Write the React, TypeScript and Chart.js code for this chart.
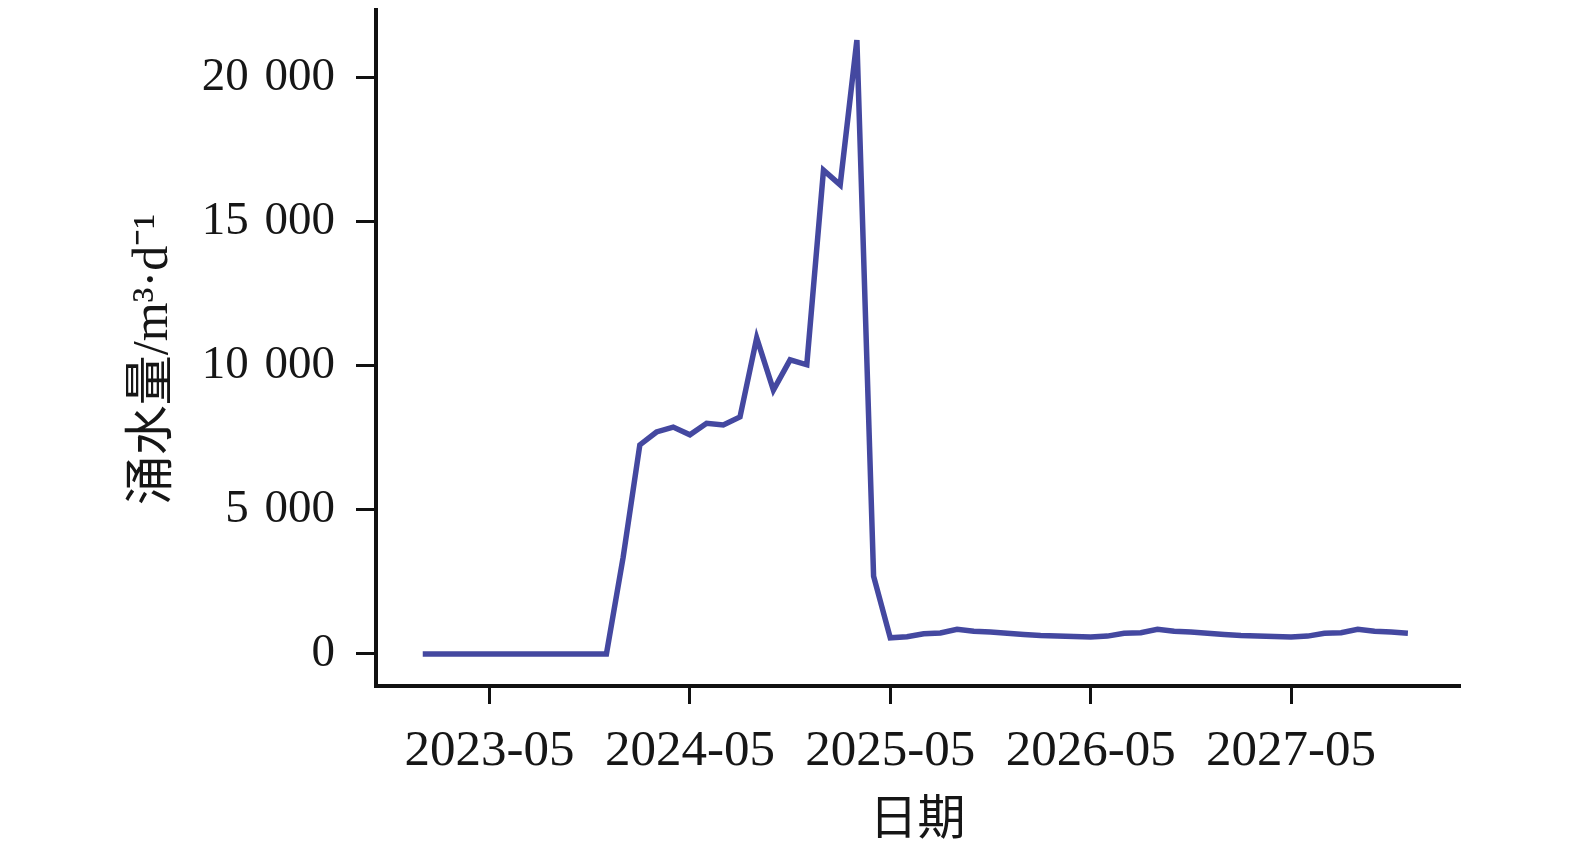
import React, { useEffect, useRef } from "react";
import { Chart, registerables } from "chart.js";

Chart.register(...registerables);

const months: string[] = [
  "2023-01", "2023-02", "2023-03", "2023-04", "2023-05", "2023-06", "2023-07", "2023-08", "2023-09", "2023-10", "2023-11", "2023-12",
  "2024-01", "2024-02", "2024-03", "2024-04", "2024-05", "2024-06", "2024-07", "2024-08", "2024-09", "2024-10", "2024-11", "2024-12",
  "2025-01", "2025-02", "2025-03", "2025-04", "2025-05", "2025-06", "2025-07", "2025-08", "2025-09", "2025-10", "2025-11", "2025-12",
  "2026-01", "2026-02", "2026-03", "2026-04", "2026-05", "2026-06", "2026-07", "2026-08", "2026-09", "2026-10", "2026-11", "2026-12",
  "2027-01", "2027-02", "2027-03", "2027-04", "2027-05", "2027-06", "2027-07", "2027-08", "2027-09", "2027-10", "2027-11", "2027-12",
];

const waterInflow: number[] = [
  0, 0, 0, 0, 0, 0, 0, 0, 0, 0, 0, 0,
  3350, 7250, 7700, 7870, 7600, 8000, 7940, 8220, 10960, 9150, 10200, 10030,
  16780, 16270, 21290, 2700, 560, 600, 700, 730, 860, 790, 760, 720,
  680, 640, 620, 610, 590, 620, 720, 740, 860, 790, 760, 720,
  680, 640, 620, 610, 590, 620, 720, 740, 860, 790, 760, 720,
];

const xTickLabels: string[] = ["2023-05", "2024-05", "2025-05", "2026-05", "2027-05"];
const yTickValues: number[] = [0, 5000, 10000, 15000, 20000];
const yTickLabels: string[] = ["0", "5\u2004000", "10\u2004000", "15\u2004000", "20\u2004000"];

const xTitle = "日期";
const yTitle = "涌水量/m³·d⁻¹\u2002";

const W = 1559;
const H = 833;

export default function App() {
  const ref = useRef<HTMLCanvasElement | null>(null);

  useEffect(() => {
    if (!ref.current) return;
    const serif = "'Liberation Serif', 'Noto Sans CJK SC', serif";
    const chart = new Chart(ref.current, {
      type: "line",
      data: {
        datasets: [
          {
            data: waterInflow.map((y, i) => ({ x: i, y })),
            borderColor: "rgb(68,72,160)",
            borderWidth: 5.5,
            pointRadius: 0,
            tension: 0,
            fill: false,
            borderJoinStyle: "miter",
            borderCapStyle: "butt",
          },
        ],
      },
      options: {
        animation: false,
        responsive: false,
        devicePixelRatio: 1,
        layout: { padding: { left: 0, right: 108, top: 0, bottom: 0 } },
        plugins: { legend: { display: false }, tooltip: { enabled: false } },
        scales: {
          x: {
            type: "linear",
            min: -2.8,
            max: 62.06,
            afterBuildTicks: (scale: any) => {
              scale.ticks = xTickLabels.map((l) => ({ value: months.indexOf(l) }));
            },
            afterFit: (scale: any) => {
              scale.height = 155;
              scale.paddingLeft = 0;
              scale.paddingRight = 0;
              scale.paddingTop = 0;
              scale.paddingBottom = 0;
            },
            ticks: {
              autoSkip: false,
              maxRotation: 0,
              minRotation: 0,
              padding: 17,
              color: "#161616",
              font: { family: serif, size: 51 },
              callback: (v: any) => months[Math.round(Number(v))] ?? "",
            },
            grid: {
              display: true,
              drawOnChartArea: false,
              drawTicks: true,
              tickLength: 18,
              tickWidth: 3,
              color: "#111",
              lineWidth: 3,
            },
            border: { display: true, color: "#111", width: 4 },
            title: {
              display: true,
              text: xTitle,
              color: "#161616",
              font: { family: serif, size: 48 },
              padding: { top: 0, bottom: -9 },
            },
          },
          y: {
            type: "linear",
            min: -1110,
            max: 22403,
            afterBuildTicks: (scale: any) => {
              scale.ticks = yTickValues.map((v) => ({ value: v }));
            },
            afterFit: (scale: any) => {
              scale.width = 368;
              scale.paddingLeft = 0;
              scale.paddingRight = 0;
              scale.paddingTop = 0;
              scale.paddingBottom = 0;
            },
            ticks: {
              padding: 21,
              color: "#161616",
              font: { family: serif, size: 47 },
              callback: (v: any) => {
                const idx = yTickValues.indexOf(Number(v));
                return idx >= 0 ? yTickLabels[idx] : "";
              },
            },
            grid: {
              display: true,
              drawOnChartArea: false,
              drawTicks: true,
              tickLength: 20,
              tickWidth: 3,
              color: "#111",
              lineWidth: 3,
            },
            border: { display: true, color: "#111", width: 4 },
            title: {
              display: true,
              text: yTitle,
              color: "#161616",
              font: { family: serif, size: 50 },
              padding: { top: 116, bottom: 0 },
            },
          },
        },
      },
    } as any);
    return () => chart.destroy();
  }, []);

  return (
    <div style={{ width: W, height: H }}>
      <canvas ref={ref} width={W} height={H} style={{ display: "block", width: W, height: H }} />
    </div>
  );
}
